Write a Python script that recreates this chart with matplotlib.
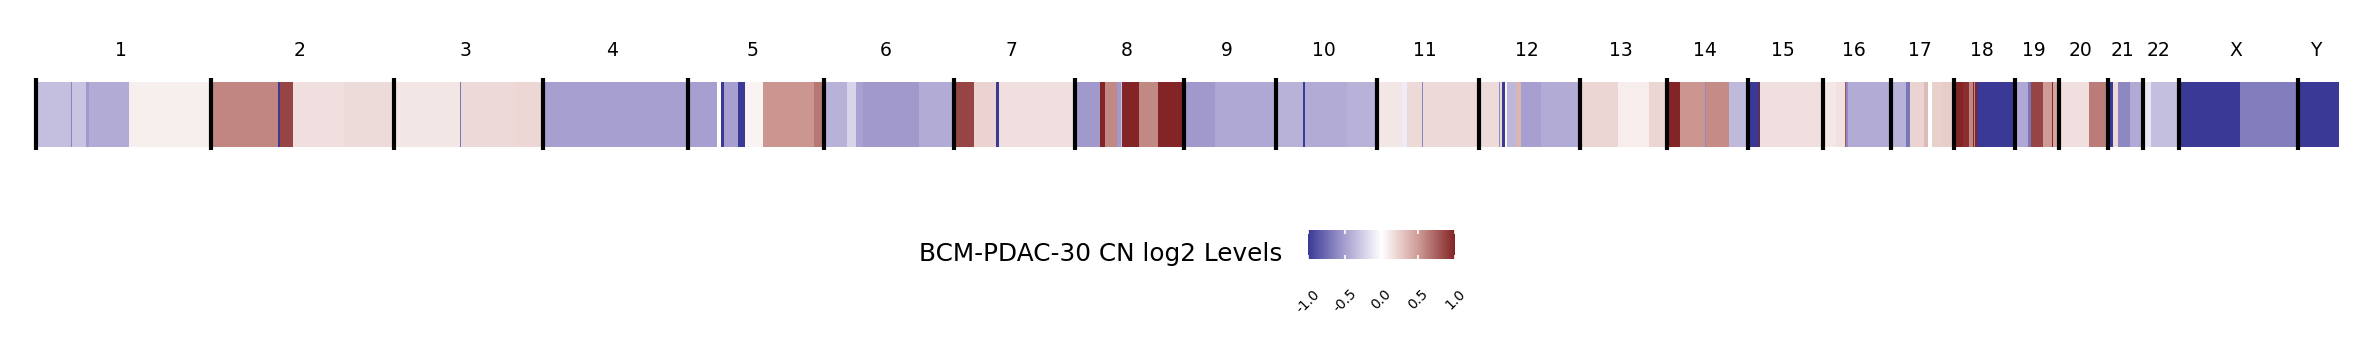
import numpy as np
import matplotlib
matplotlib.use("Agg")
import matplotlib.pyplot as plt
from matplotlib.colors import LinearSegmentedColormap, Normalize
from matplotlib.cm import ScalarMappable
from matplotlib.transforms import blended_transform_factory, ScaledTranslation

sample = "BCM-PDAC-30"

chroms = ['1', '2', '3', '4', '5', '6', '7', '8', '9', '10', '11', '12',
          '13', '14', '15', '16', '17', '18', '19', '20', '21', '22', 'X', 'Y']
# chromosome start positions (genome bins), last value is the genome end
chrom_starts = [0, 175, 358, 507, 652, 788, 918, 1039, 1148, 1240, 1341, 1443,
                1544, 1631, 1712, 1787, 1855, 1918, 1979, 2023, 2072, 2107, 2143, 2262]
genome_end = 2303

# segment start positions (bins) and log2 copy number values
seg_starts = [
    0, 35, 36, 50, 53, 93,                                   # 1
    175, 242, 244, 257, 308,                                 # 2
    358, 424, 425, 479,                                      # 3
    507,                                                     # 4
    652, 681, 685, 688, 702, 709, 727, 778,                  # 5
    788, 811, 820, 827, 883,                                 # 6
    918, 938, 960, 963,                                      # 7
    1039, 1064, 1069, 1081, 1085, 1086, 1103, 1122,          # 8
    1148, 1179,                                              # 9
    1240, 1267, 1269, 1311,                                  # 10
    1341, 1366, 1371, 1386, 1387,                            # 11
    1443, 1463, 1464, 1466, 1469, 1471, 1480, 1485, 1505,    # 12
    1544, 1582, 1613,                                        # 13
    1631, 1644, 1669, 1670, 1693,                            # 14
    1712, 1723, 1724,                                        # 15
    1787, 1800, 1809, 1810, 1812,                            # 16
    1855, 1870, 1874, 1888, 1892, 1896, 1907,                # 17
    1918, 1927, 1933, 1937, 1938, 1939, 1941,                # 18
    1979, 1992, 1995, 2007, 2016, 2017,                      # 19
    2023, 2053,                                              # 20
    2072, 2077, 2082, 2094,                                  # 21
    2107, 2115,                                              # 22
    2143, 2204,                                              # X
    2262,                                                    # Y
]
seg_values = [
    -0.33, -0.63, -0.31, -0.53, -0.43, 0.08,
    0.59, -1.0, 0.86, 0.16, 0.18,
    0.12, -0.7, 0.19, 0.2,
    -0.5,
    -0.5, np.nan, -1.0, -0.5, -1.0, 0.06, 0.53, 0.65,
    -0.4, -0.22, -0.48, -0.53, -0.43,
    0.86, 0.22, -1.0, 0.16,
    -0.53, 1.0, 0.58, -0.53, -0.3, 1.0, 0.58, 1.0,
    -0.53, -0.45,
    -0.4, -1.0, -0.43, -0.4,
    0.12, -0.1, 0.19, -0.63, 0.19,
    0.18, -0.6, 0.18, -1.0, 0.05, -0.37, 0.37, -0.5, -0.43,
    0.21, 0.086, 0.21,
    1.0, 0.525, -0.6, 0.567, -0.36,
    -1.0, 1.0, 0.157,
    0.11, 0.146, 0.8, -0.6, -0.43,
    -0.4, -0.7, 0.22, 0.34, np.nan, 0.24, 0.25,
    1.0, 0.95, 0.58, 1.0, 0.58, 1.0, -1.0,
    -0.45, -0.7, 0.86, 0.5, 1.0, 0.46,
    0.16, 0.63,
    -1.0, 0.19, -0.61, -0.44,
    -0.13, -0.33,
    -1.0, -0.67,
    -1.0,
]

cbar_ticks = [-1.0, -0.5, 0.0, 0.5, 1.0]
cbar_labels = ['-1.0', '-0.5', '0.0', '0.5', '1.0']

cmap = LinearSegmentedColormap.from_list(
    'cn', [(0.0, '#3a3a96'), (0.25, '#a79fcf'), (0.5, '#ffffff'),
           (0.75, '#cf9c97'), (1.0, '#832426')])
cmap.set_bad('white')
norm = Normalize(vmin=-1, vmax=1)

fig = plt.figure(figsize=(23.62, 3.54), dpi=100)
ax = fig.add_axes([36 / 2362, 1 - 147 / 354, 2303 / 2362, 65 / 354])

x_edges = np.array(seg_starts + [genome_end], dtype=float)
vals = np.ma.masked_invalid(np.array(seg_values, dtype=float)).reshape(1, -1)
ax.pcolormesh(x_edges, [0, 1], vals, cmap=cmap, norm=norm,
              edgecolors='none', linewidth=0, antialiased=False)
ax.set_xlim(0, genome_end)
ax.set_ylim(0, 1)
ax.axis('off')

ax.vlines(chrom_starts, -0.05, 1.06, color='black', lw=3.0, clip_on=False)

# chromosome names
ends = chrom_starts[1:] + [genome_end]
trans = blended_transform_factory(ax.transData, fig.transFigure) + \
    ScaledTranslation(-3 / 100, 0, fig.dpi_scale_trans)
for name, s, e in zip(chroms, chrom_starts, ends):
    ax.text((s + e) / 2, 1 - 50 / 354, name, transform=trans,
            ha='center', va='center', fontsize=13.5)

fig.text(1101 / 2362, 1 - 254 / 354, sample + " CN log2 Levels",
         ha='center', va='center', fontsize=17.8)

cax = fig.add_axes([1308 / 2362, 1 - 259 / 354, 147 / 2362, 29 / 354])
cb = fig.colorbar(ScalarMappable(norm=norm, cmap=cmap), cax=cax,
                  orientation='horizontal')
cb.outline.set_visible(False)
cb.set_ticks(cbar_ticks)
cb.set_ticklabels(cbar_labels)
cax.tick_params(axis='x', direction='in', length=3, width=1.2, color='white',
                top=True, pad=20, labelsize=10)
for lab in cax.get_xticklabels():
    lab.set_rotation(45)
    lab.set_ha('center')
    lab.set_va('top')

fig.savefig('out.png', dpi=100)
